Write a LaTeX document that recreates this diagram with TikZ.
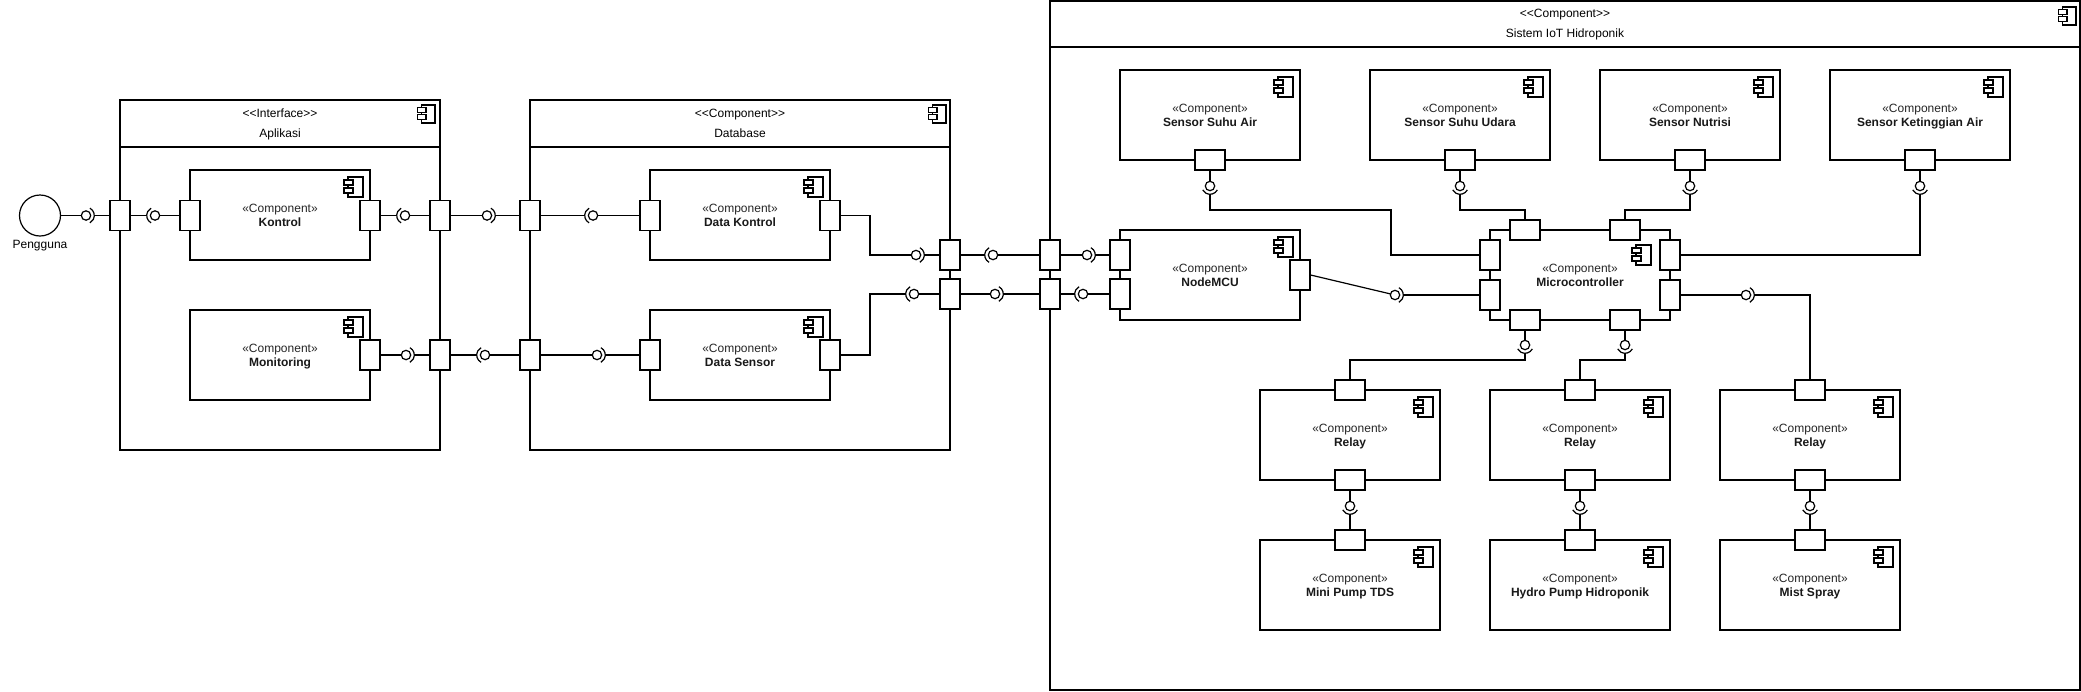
\documentclass[tikz,border=0pt]{standalone}
\usepackage{fontspec}
\setmainfont{Liberation Sans}
\newcommand{\dlt}{<\kern0pt<}
\newcommand{\dgt}{>\kern0pt>}
% component icon: #1 scale, (#2,#3) top-right corner of main rectangle
\newcommand{\compicon}[3][1]{%
  \begin{scope}[shift={(#2,#3)}, scale=#1, line width=1.05pt]
    \draw[fill=white] (-15,0) rectangle (0,20);
    \draw[fill=white] (-19,3) rectangle (-10,8);
    \draw[fill=white] (-19,11) rectangle (-10,16);
  \end{scope}}
% component box: name, cx, cy, title
\newcommand{\comp}[4]{%
  \node[cbox] (#1) at (#2,#3) {};
  \node[stereo, anchor=base] (#1s) at (#2,#3-3) {«Component»};
  \node[ctitle, anchor=base] (#1t) at (#2,#3+11.8) {#4};}
% interface (ball and socket): name, x, y, socket direction angle
\newcommand{\iface}[4]{%
  \coordinate (#1) at (#2,#3);
  \draw[fill=white] (#1) circle (4.7);
  \draw (#1) ++(#4-62:8.3) arc[start angle=#4-62, end angle=#4+62, radius=8.3];}
\begin{document}
\begin{tikzpicture}[x=1pt,y=-1pt,line width=1.2pt,
  cbox/.style={draw, fill=white, minimum width=180pt, minimum height=90pt, inner sep=0pt},
  stereo/.style={font=\fontsize{12}{14}\selectfont, text=black!85, inner sep=0pt},
  ctitle/.style={font=\fontsize{12}{14}\selectfont\bfseries, text=black!90, inner sep=0pt},
  lbl/.style={font=\fontsize{12}{14}\selectfont, inner sep=0pt},
  container/.style={draw, fill=white, inner sep=0pt},
  vport/.style={draw, fill=white, minimum width=20pt, minimum height=30pt, inner sep=0pt},
  hport/.style={draw, fill=white, minimum width=30pt, minimum height=20pt, inner sep=0pt},
  tob/.style={shorten >=4.7pt}, tos/.style={shorten >=8.3pt},
  fromb/.style={shorten <=4.7pt}, froms/.style={shorten <=8.3pt}]
\useasboundingbox (0,0) rectangle (2081,691);

% ---------- containers ----------
\node[container, minimum width=320pt, minimum height=350pt] (aplikasi) at (280,275) {};
\draw (120,147) -- (440,147);
\node[lbl, anchor=base] (aplT1) at (280,117.3) {\dlt Interface\dgt};
\node[lbl, anchor=base] (aplT2) at (280,137.4) {Aplikasi};
\compicon[0.9]{435}{105}

\node[container, minimum width=420pt, minimum height=350pt] (database) at (740,275) {};
\draw (530,147) -- (950,147);
\node[lbl, anchor=base] (dbT1) at (740,117.3) {\dlt Component\dgt};
\node[lbl, anchor=base] (dbT2) at (740,137.4) {Database};
\compicon[0.9]{946}{105}

\node[container, minimum width=1030pt, minimum height=689pt] (sistem) at (1565,345.5) {};
\draw (1050,47) -- (2080,47);
\node[lbl, anchor=base] (sisT1) at (1565,17.3) {\dlt Component\dgt};
\node[lbl, anchor=base] (sisT2) at (1565,37.4) {Sistem IoT Hidroponik};
\compicon[0.9]{2076}{7}

% ---------- Pengguna ----------
\node[draw, circle, minimum size=41pt, inner sep=0pt] (pengguna) at (40,215.5) {};
\node[lbl, anchor=base] (penggunaT) at (40,248.5) {Pengguna};

% ---------- components ----------
\comp{kontrol}{280}{215}{Kontrol}\compicon{363}{177}
\comp{monitoring}{280}{355}{Monitoring}\compicon{363}{317}
\comp{dkontrol}{740}{215}{Data Kontrol}\compicon{823}{177}
\comp{dsensor}{740}{355}{Data Sensor}\compicon{823}{317}
\comp{nodemcu}{1210}{275}{NodeMCU}\compicon{1293}{237}
\comp{micro}{1580}{275}{Microcontroller}\compicon{1651}{245}
\comp{sen1}{1210}{115}{Sensor Suhu Air}\compicon{1293}{77}
\comp{sen2}{1460}{115}{Sensor Suhu Udara}\compicon{1543}{77}
\comp{sen3}{1690}{115}{Sensor Nutrisi}\compicon{1773}{77}
\comp{sen4}{1920}{115}{Sensor Ketinggian Air}\compicon{2003}{77}
\comp{relay1}{1350}{435}{Relay}\compicon{1433}{397}
\comp{relay2}{1580}{435}{Relay}\compicon{1663}{397}
\comp{relay3}{1810}{435}{Relay}\compicon{1893}{397}
\comp{pump1}{1350}{585}{Mini Pump TDS}\compicon{1433}{547}
\comp{pump2}{1580}{585}{Hydro Pump Hidroponik}\compicon{1663}{547}
\comp{pump3}{1810}{585}{Mist Spray}\compicon{1893}{547}

% ---------- ports ----------
\node[vport] (pA1) at (120,215.5) {};
\node[vport] (pK1) at (190,215.5) {};
\node[vport] (pK2) at (370,215.5) {};
\node[vport] (pA2) at (440,215.5) {};
\node[vport] (pD1) at (530,215.5) {};
\node[vport] (pDK1) at (650,215.5) {};
\node[vport] (pDK2) at (830,215.5) {};
\node[vport] (pD3) at (950,255) {};
\node[vport] (pS1) at (1050,255) {};
\node[vport] (pN1) at (1120,255) {};
\node[vport] (pM) at (370,355) {};
\node[vport] (pA3) at (440,355) {};
\node[vport] (pD2) at (530,355) {};
\node[vport] (pDS1) at (650,355) {};
\node[vport] (pDS2) at (830,355) {};
\node[vport] (pD4) at (950,294) {};
\node[vport] (pS2) at (1050,294) {};
\node[vport] (pN2) at (1120,294) {};
\node[vport] (pN3) at (1300,275) {};
\node[hport] (pMT1) at (1525,230) {};
\node[hport] (pMT2) at (1625,230) {};
\node[vport] (pMR1) at (1670,255) {};
\node[vport] (pMR2) at (1670,295) {};
\node[hport] (pMB1) at (1525,320) {};
\node[hport] (pMB2) at (1625,320) {};
\node[vport] (pML1) at (1490,255) {};
\node[vport] (pML2) at (1490,295) {};
\node[hport] (pSe1) at (1210,160) {};
\node[hport] (pSe2) at (1460,160) {};
\node[hport] (pSe3) at (1690,160) {};
\node[hport] (pSe4) at (1920,160) {};
\node[hport] (pR1t) at (1350,390) {};
\node[hport] (pR2t) at (1580,390) {};
\node[hport] (pR3t) at (1810,390) {};
\node[hport] (pR1b) at (1350,480) {};
\node[hport] (pR2b) at (1580,480) {};
\node[hport] (pR3b) at (1810,480) {};
\node[hport] (pP1t) at (1350,540) {};
\node[hport] (pP2t) at (1580,540) {};
\node[hport] (pP3t) at (1810,540) {};

% ---------- connectors, row 1 ----------
\iface{i1}{86}{215.5}{0}
\draw[tob] (pengguna) -- (i1); \draw[froms] (i1) -- (pA1);
\iface{i2}{155}{215.5}{180}
\draw[tos] (pA1) -- (i2); \draw[fromb] (i2) -- (pK1);
\iface{i3}{405}{215.5}{180}
\draw[tos] (pK2) -- (i3); \draw[fromb] (i3) -- (pA2);
\iface{i4}{487}{215.5}{0}
\draw[tob] (pA2) -- (i4); \draw[froms] (i4) -- (pD1);
\iface{i5}{593}{215.5}{180}
\draw[tos] (pD1) -- (i5); \draw[fromb] (i5) -- (pDK1);
\iface{i6}{916}{255}{0}
\draw[tob] (pDK2.east) -- (870,215.5) -- (870,255) -- (i6); \draw[froms] (i6) -- (pD3);
\iface{i7}{993}{255}{180}
\draw[tos] (pD3) -- (i7); \draw[fromb] (i7) -- (pS1);
\iface{i8}{1087}{255}{0}
\draw[tob] (pS1) -- (i8); \draw[froms] (i8) -- (pN1);

% ---------- connectors, row 2 ----------
\iface{j1}{406}{355}{0}
\draw[tob] (pM) -- (j1); \draw[froms] (j1) -- (pA3);
\iface{j2}{485}{355}{180}
\draw[tos] (pA3) -- (j2); \draw[fromb] (j2) -- (pD2);
\iface{j3}{597}{355}{0}
\draw[tob] (pD2) -- (j3); \draw[froms] (j3) -- (pDS1);
\iface{j4}{914}{294}{180}
\draw[tos] (pDS2.east) -- (870,355) -- (870,294) -- (j4); \draw[fromb] (j4) -- (pD4);
\iface{j5}{995}{294}{0}
\draw[tob] (pD4) -- (j5); \draw[froms] (j5) -- (pS2);
\iface{j6}{1083}{294}{180}
\draw[tos] (pS2) -- (j6); \draw[fromb] (j6) -- (pN2);

% ---------- NodeMCU to Microcontroller ----------
\iface{k1}{1395}{295}{0}
\draw[tob] (pN3.east) -- (k1); \draw[froms] (k1) -- (pML2);

% ---------- sensors ----------
\iface{s1}{1210}{186}{90}
\draw[tob] (pSe1) -- (s1); \draw[froms] (s1) -- (1210,210) -- (1391,210) |- (pML1);
\iface{s2}{1460}{186}{90}
\draw[tob] (pSe2) -- (s2); \draw[froms] (s2) -- (1460,210) -| (pMT1);
\iface{s3}{1690}{186}{90}
\draw[tob] (pSe3) -- (s3); \draw[froms] (s3) -- (1690,210) -| (pMT2);
\iface{s4}{1920}{186}{90}
\draw[tob] (pSe4) -- (s4); \draw[froms] (s4) |- (pMR1);

% ---------- Microcontroller to relays ----------
\iface{m1}{1746}{295}{0}
\draw[tob] (pMR2) -- (m1); \draw[froms] (m1) -| (pR3t);
\iface{m2}{1525}{345}{90}
\draw[tob] (pMB1) -- (m2); \draw[froms] (m2) -- (1525,360) -| (pR1t);
\iface{m3}{1625}{345}{90}
\draw[tob] (pMB2) -- (m3); \draw[froms] (m3) -- (1625,360) -| (pR2t);

% ---------- relays to actuators ----------
\iface{r1}{1350}{506}{90}
\draw[tob] (pR1b) -- (r1); \draw[froms] (r1) -- (pP1t);
\iface{r2}{1580}{506}{90}
\draw[tob] (pR2b) -- (r2); \draw[froms] (r2) -- (pP2t);
\iface{r3}{1810}{506}{90}
\draw[tob] (pR3b) -- (r3); \draw[froms] (r3) -- (pP3t);
\end{tikzpicture}
\end{document}
